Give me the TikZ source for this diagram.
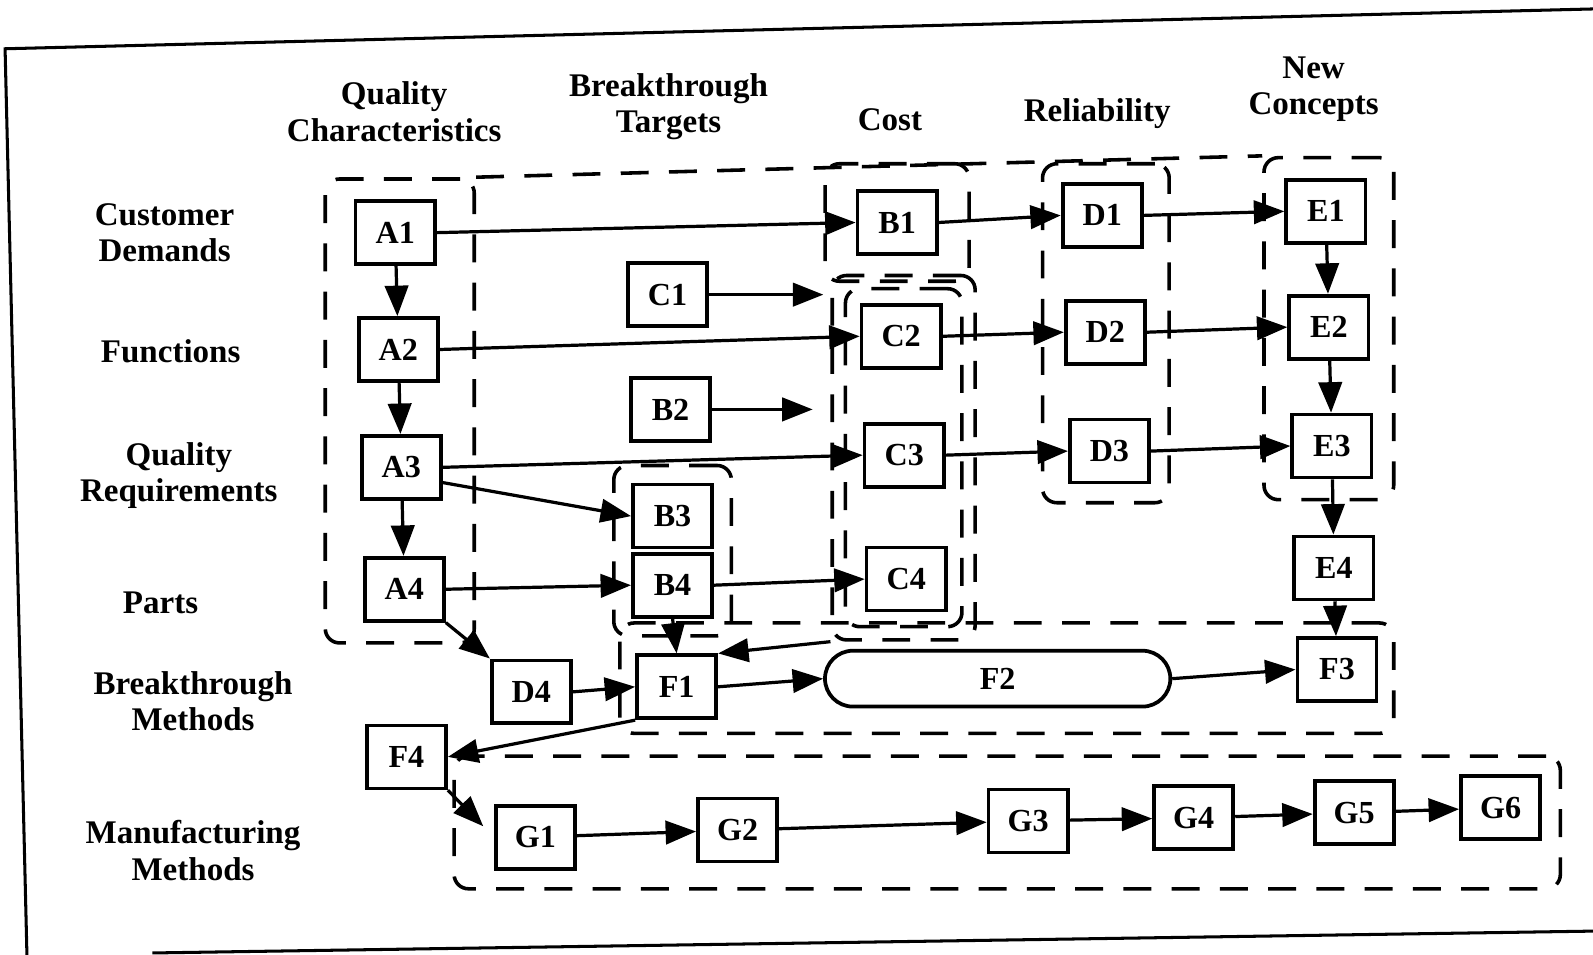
\documentclass[tikz,border=0pt]{standalone}
\usepackage{fontspec}
\setmainfont{Liberation Serif}
\usetikzlibrary{arrows.meta, positioning, fit, backgrounds}

\begin{document}
\begin{tikzpicture}[
  x=0.02cm, y=-0.02cm,
  blk/.style={draw, line width=2.1pt, minimum width=1.56cm, minimum height=1.24cm,
              inner sep=0pt, font=\fontsize{18}{20}\selectfont\bfseries},
  pill/.style={blk, rounded corners=0.55cm, minimum width=6.8cm, minimum height=1.1cm},
  lbl/.style={align=center, font=\fontsize{18.5}{20.5}\selectfont\bfseries},
  flow/.style={-{Triangle[length=6mm,width=4.6mm]}, line width=1.8pt},
  grp/.style={draw, dash pattern=on 5.5mm off 4mm, line width=2pt,
              rounded corners=8pt, inner sep=0.4cm},
  dashline/.style={draw, dash pattern=on 5.5mm off 4mm, line width=2pt},
]
  \useasboundingbox (0,0) rectangle (1568,940);

  % ---- outer frame (scanned page, slightly tilted) ----
  \draw[line width=1.7pt] (1600,8) -- (5,48) -- (27,960);
  \draw[line width=1.7pt] (150,938) -- (1600,916);

  % ---- column headings ----
  \node[lbl] (lQC)   at (388,110) {Quality\\Characteristics};
  \node[lbl] (lBT)   at (658,105) {Breakthrough\\Targets};
  \node[lbl] (lCost) at (876,118) {Cost};
  \node[lbl] (lRel)  at (1080,112) {Reliability};
  \node[lbl] (lNC)   at (1293,88) {New\\Concepts};

  % ---- row headings ----
  \node[lbl] (rCD) at (162,229) {Customer\\Demands};
  \node[lbl] (rFn) at (168,346) {Functions};
  \node[lbl] (rQR) at (176,468) {Quality\\Requirements};
  \node[lbl] (rPt) at (158,593) {Parts};
  \node[lbl] (rBM) at (190,690) {Breakthrough\\Methods};
  \node[lbl] (rMM) at (190,837) {Manufacturing\\Methods};

  % ---- quality characteristics ----
  \node[blk] (A1) at (389,229) {A1};
  \node[blk] (A2) at (392,344) {A2};
  \node[blk] (A3) at (395,460) {A3};
  \node[blk] (A4) at (398,580) {A4};

  % ---- breakthrough targets ----
  \node[blk] (C1) at (657,290) {C1};
  \node[blk] (B2) at (660,403) {B2};
  \node[blk] (B3) at (662,508) {B3};
  \node[blk] (B4) at (662,576) {B4};

  % ---- cost ----
  \node[blk] (B1) at (883,219) {B1};
  \node[blk] (C2) at (887,331) {C2};
  \node[blk] (C3) at (890,448) {C3};
  \node[blk] (C4) at (892,570) {C4};

  % ---- reliability ----
  \node[blk] (D1) at (1085,212) {D1};
  \node[blk] (D2) at (1088,327) {D2};
  \node[blk] (D3) at (1092,444) {D3};

  % ---- new concepts ----
  \node[blk] (E1) at (1305,208) {E1};
  \node[blk] (E2) at (1308,322) {E2};
  \node[blk] (E3) at (1311,439) {E3};
  \node[blk] (E4) at (1313,559) {E4};

  % ---- breakthrough methods ----
  \node[blk]  (D4) at (523,681) {D4};
  \node[blk]  (F1) at (666,676) {F1};
  \node[pill] (F2) at (982,668) {F2};
  \node[blk]  (F3) at (1316,659) {F3};
  \node[blk]  (F4) at (400,745) {F4};

  % ---- manufacturing methods ----
  \node[blk] (G1) at (527,824) {G1};
  \node[blk] (G2) at (726,817) {G2};
  \node[blk] (G3) at (1012,808) {G3};
  \node[blk] (G4) at (1175,805) {G4};
  \node[blk] (G5) at (1333,800) {G5};
  \node[blk] (G6) at (1477,795) {G6};
  \coordinate (gL) at (465,822);

  % ---- dashed groupings ----
  \node[grp, inner xsep=0.56cm] (grpA) [fit=(A1)(A2)(A3)(A4)] {};
  \node[grp, inner sep=0.34cm] (grpB) [fit=(B3)(B4)] {};
  \node[grp, inner xsep=0.6cm, inner ysep=0.5cm] (grpB1) [fit=(B1)] {};
  \node[grp, inner sep=0.28cm] (grpC) [fit=(C2)(C3)(C4)] {};
  \node[grp, inner sep=0.54cm] (grpCost) [fit=(C2)(C3)(C4)] {};
  \node[grp, inner sep=0.36cm] (grpD) [fit=(D1)(D2)(D3)] {};
  \node[grp, inner sep=0.4cm] (grpE) [fit=(E1)(E2)(E3)] {};
  \node[grp, inner xsep=0.3cm, inner ysep=0.26cm] (grpF) [fit=(F1)(F2)(F3)] {};
  \node[grp, inner sep=0.36cm] (grpG) [fit=(gL)(G1)(G2)(G3)(G4)(G5)(G6)] {};
  \draw[dashline] (grpA.north east) -- (grpE.north west);

  % ---- flows down the first column ----
  \draw[flow] (A1) -- (A2);
  \draw[flow] (A2) -- (A3);
  \draw[flow] (A3) -- (A4);

  % ---- flows across ----
  \draw[flow] (A1.east) -- (B1.west);
  \draw[flow] (A2.east) -- (C2.west);
  \draw[flow] (A3.east) -- (C3.west);
  \draw[flow] ([yshift=-0.3cm]A3.east) -- (B3.west);
  \draw[flow] (A4.east) -- (B4.west);
  \draw[flow] (A4.south east) -- (D4.north west);
  \draw[flow] (C1.east) -- (C1.east -| grpB1.west);
  \draw[flow, shorten >=0.35cm] (B2.east) -- (B2.east -| grpCost.west);
  \draw[flow] (B4.east) -- (C4.west);
  \draw[flow] (B4.south) -- (F1.north);

  \draw[flow] (B1.east) -- (D1.west);
  \draw[flow] (D1.east) -- (E1.west);
  \draw[flow] (C2.east) -- (D2.west);
  \draw[flow] (D2.east) -- (E2.west);
  \draw[flow] (C3.east) -- (D3.west);
  \draw[flow] (D3.east) -- (E3.west);

  \draw[flow] (E1) -- (E2);
  \draw[flow] (E2) -- (E3);
  \draw[flow] (E3) -- (E4);
  \draw[flow] (E4) -- (F3);

  % ---- breakthrough methods ----
  \draw[flow] (grpCost.south west) -- (F1.north east);
  \draw[flow] (D4.east) -- (F1.west);
  \draw[flow] (F1.east) -- (F2.west);
  \draw[flow] (F2.east) -- (F3.west);
  \draw[flow] (F1.south west) -- (F4.east);
  \draw[flow, shorten >=0.3cm] (F4.south east) -- (G1.west);

  % ---- manufacturing chain ----
  \draw[flow] (G1) -- (G2);
  \draw[flow] (G2) -- (G3);
  \draw[flow] (G3) -- (G4);
  \draw[flow] (G4) -- (G5);
  \draw[flow] (G5) -- (G6);
\end{tikzpicture}
\end{document}
